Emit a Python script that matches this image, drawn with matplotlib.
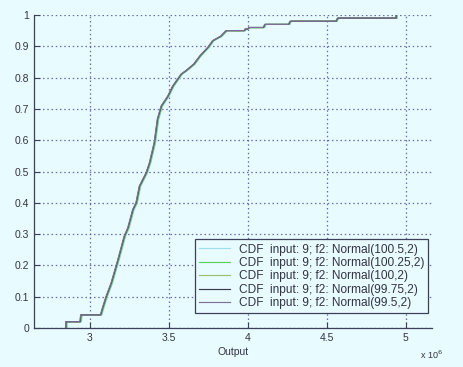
import matplotlib
matplotlib.use("Agg")
import matplotlib.pyplot as plt
import numpy as np

plt.rcParams['font.family'] = ['Liberation Sans', 'DejaVu Sans']

# CDF curve vertices (Output in units of 1e6, cumulative probability)
curve_x = [2.85, 2.85, 2.94, 2.945, 3.07, 3.08, 3.105, 3.137, 3.18, 3.22, 3.243, 3.274,
           3.295, 3.316, 3.359, 3.38, 3.41, 3.43, 3.454, 3.496, 3.527, 3.58, 3.61,
           3.66, 3.70, 3.75, 3.78, 3.83, 3.865, 3.98, 3.985, 4.0, 4.01, 4.1, 4.11,
           4.26, 4.27, 4.56, 4.57, 4.94, 4.94]
curve_y = [0.0, 0.02, 0.02, 0.042, 0.042, 0.06, 0.10, 0.143, 0.218, 0.293, 0.32, 0.378,
           0.40, 0.453, 0.496, 0.528, 0.592, 0.667, 0.709, 0.741, 0.773, 0.811, 0.822,
           0.843, 0.87, 0.897, 0.918, 0.932, 0.95, 0.95, 0.955, 0.955, 0.96, 0.96, 0.97,
           0.97, 0.98, 0.98, 0.99, 0.99, 1.0]

series_labels = ["CDF  input: 9; f2: Normal(100.5,2)",
                 "CDF  input: 9; f2: Normal(100.25,2)",
                 "CDF  input: 9; f2: Normal(100,2)",
                 "CDF  input: 9; f2: Normal(99.75,2)",
                 "CDF  input: 9; f2: Normal(99.5,2)"]
series_shift = [0.006, 0.003, 0.0, -0.002, -0.004]  # small offsets (x 1e6)
series_colors = ["#9fdcf0", "#5ccf5c", "#98c070", "#3a3a4c", "#7e7098"]

x_ticks = [3.0, 3.5, 4.0, 4.5, 5.0]
x_ticklabels = ["3", "3.5", "4", "4.5", "5"]
y_ticks = [0, 0.1, 0.2, 0.3, 0.4, 0.5, 0.6, 0.7, 0.8, 0.9, 1.0]
y_ticklabels = ["0", "0.1", "0.2", "0.3", "0.4", "0.5", "0.6", "0.7", "0.8", "0.9", "1"]

bg = "#e8fbfe"
fig = plt.figure(figsize=(4.64, 3.67), dpi=100, facecolor=bg)
ax = fig.add_axes([34/464, 1 - 328/367, (432 - 34)/464, (328 - 15)/367])
ax.set_facecolor(bg)

cx = np.array(curve_x) * 1e6
for lab, sh, col in zip(series_labels, series_shift, series_colors):
    ax.plot(cx + sh * 1e6, curve_y, color=col, lw=0.85, label=lab)

ax.set_xlim(2.646e6, 5.165e6)
ax.set_ylim(0, 1)
ax.set_xticks([t * 1e6 for t in x_ticks])
ax.set_xticklabels(x_ticklabels)
ax.set_yticks(y_ticks)
ax.set_yticklabels(y_ticklabels)
ax.tick_params(direction='in', length=4, width=0.8, colors='#3c4058', labelsize=7.5,
               labelcolor='#333344')
ax.grid(True, linestyle=(0, (1.2, 2.2)), color='#4a4a9a', linewidth=0.9, alpha=0.8)
for s in ['top', 'right']:
    ax.spines[s].set_visible(False)
for s in ['left', 'bottom']:
    ax.spines[s].set_color('#3c4058')
    ax.spines[s].set_linewidth(0.9)

ax.set_xlabel("Output", fontsize=7.5, color='#333344', labelpad=3)
fig.text(0.905, 0.022, "x 10$^{6}$", fontsize=6.5, color='#333344')

leg = ax.legend(loc='lower right', bbox_to_anchor=(1.0, 0.035), fontsize=8.6,
                frameon=True, fancybox=False, edgecolor='#3c4058', facecolor=bg,
                framealpha=1, handlelength=2.6, handletextpad=0.7, borderpad=0.35,
                labelspacing=0.12, borderaxespad=0.3)
leg.get_frame().set_linewidth(0.9)
for t in leg.get_texts():
    t.set_color('#333344')

fig.savefig("out.png", dpi=100, facecolor=bg)
